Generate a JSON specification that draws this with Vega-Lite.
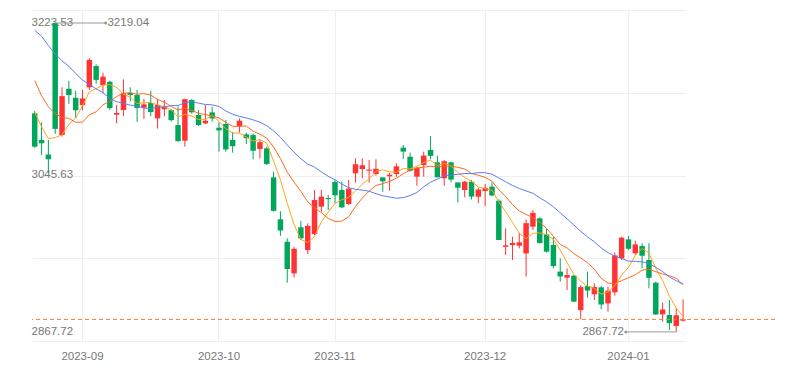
{
  "$schema": "https://vega.github.io/schema/vega-lite/v6.json",
  "width": 743,
  "height": 331,
  "autosize": "none",
  "padding": {"left": 32, "top": 10, "right": 12, "bottom": 29},
  "background": "#ffffff",
  "config": {
    "view": {"stroke": null},
    "axis": {"labelFont": "Liberation Sans", "labelFontSize": 11.5, "labelColor": "#777777"}
  },
  "datasets": {
    "k": [
      {"d":"2023-08-23","o":3116.3,"h":3119,"l":3077,"c":3078.4,"m5":3117.48,"m10":3153.6,"m20":3210.74},
      {"d":"2023-08-24","o":3086,"h":3106,"l":3069,"c":3082.24,"m5":3101.18,"m10":3136.36,"m20":3204.01},
      {"d":"2023-08-25","o":3069.5,"h":3086,"l":3048,"c":3064.07,"m5":3087.6,"m10":3123.85,"m20":3193.42},
      {"d":"2023-08-28","o":3219.04,"h":3219.04,"l":3093,"c":3098.64,"m5":3088.74,"m10":3115.87,"m20":3183.8},
      {"d":"2023-08-29","o":3091.7,"h":3146,"l":3090,"c":3135.89,"m5":3091.85,"m10":3111.84,"m20":3176.05},
      {"d":"2023-08-30","o":3144.3,"h":3153.4,"l":3127,"c":3137.14,"m5":3103.6,"m10":3110.54,"m20":3169.82},
      {"d":"2023-08-31","o":3134,"h":3142,"l":3111,"c":3119.88,"m5":3111.12,"m10":3106.15,"m20":3161.79},
      {"d":"2023-09-01","o":3125.6,"h":3143,"l":3120,"c":3133.25,"m5":3124.96,"m10":3106.28,"m20":3154.05},
      {"d":"2023-09-04","o":3145.9,"h":3179,"l":3143,"c":3177.06,"m5":3140.64,"m10":3114.69,"m20":3149.46},
      {"d":"2023-09-05","o":3170.1,"h":3172,"l":3150,"c":3154.37,"m5":3144.34,"m10":3118.09,"m20":3144.15},
      {"d":"2023-09-06","o":3148.5,"h":3162.5,"l":3139,"c":3158.08,"m5":3148.53,"m10":3126.06,"m20":3139.83},
      {"d":"2023-09-07","o":3152.3,"h":3153.5,"l":3120,"c":3122.35,"m5":3149.02,"m10":3130.07,"m20":3133.22},
      {"d":"2023-09-08","o":3114.8,"h":3125.8,"l":3104.9,"c":3116.72,"m5":3145.72,"m10":3135.34,"m20":3129.59},
      {"d":"2023-09-11","o":3120.1,"h":3155,"l":3113.3,"c":3139,"m5":3138.1,"m10":3139.37,"m20":3127.62},
      {"d":"2023-09-12","o":3139.8,"h":3146,"l":3130,"c":3137.23,"m5":3134.68,"m10":3139.51,"m20":3125.67},
      {"d":"2023-09-13","o":3137.1,"h":3142.8,"l":3106.7,"c":3122.36,"m5":3127.53,"m10":3138.03,"m20":3124.28},
      {"d":"2023-09-14","o":3122.8,"h":3133,"l":3110,"c":3126.55,"m5":3128.37,"m10":3138.7,"m20":3122.42},
      {"d":"2023-09-15","o":3128,"h":3142,"l":3113,"c":3117.74,"m5":3128.58,"m10":3137.15,"m20":3121.71},
      {"d":"2023-09-18","o":3110.6,"h":3133,"l":3099,"c":3125.93,"m5":3125.96,"m10":3132.03,"m20":3123.36},
      {"d":"2023-09-19","o":3121,"h":3131.5,"l":3113,"c":3124.25,"m5":3123.37,"m10":3129.02,"m20":3123.56},
      {"d":"2023-09-20","o":3120,"h":3121,"l":3107,"c":3108.57,"m5":3120.61,"m10":3124.07,"m20":3125.07},
      {"d":"2023-09-21","o":3103,"h":3124,"l":3084,"c":3084.7,"m5":3112.24,"m10":3120.31,"m20":3125.19},
      {"d":"2023-09-22","o":3085.2,"h":3133,"l":3078.5,"c":3132.43,"m5":3115.18,"m10":3121.88,"m20":3128.61},
      {"d":"2023-09-25","o":3131.5,"h":3132.5,"l":3116,"c":3117.5,"m5":3113.49,"m10":3119.73,"m20":3129.55},
      {"d":"2023-09-26","o":3114.4,"h":3120,"l":3102,"c":3103,"m5":3109.24,"m10":3116.3,"m20":3127.91},
      {"d":"2023-09-27","o":3104.9,"h":3125.8,"l":3104,"c":3107.9,"m5":3109.11,"m10":3114.86,"m20":3126.44},
      {"d":"2023-09-28","o":3117.4,"h":3123.9,"l":3106.8,"c":3110.48,"m5":3114.26,"m10":3113.25,"m20":3125.97},
      {"d":"2023-10-09","o":3100,"h":3106,"l":3072.7,"c":3096.92,"m5":3107.16,"m10":3111.17,"m20":3124.16},
      {"d":"2023-10-10","o":3104.2,"h":3108.7,"l":3072.7,"c":3075.24,"m5":3098.71,"m10":3106.1,"m20":3119.07},
      {"d":"2023-10-11","o":3086,"h":3095,"l":3071.6,"c":3078.96,"m5":3093.9,"m10":3101.57,"m20":3115.3},
      {"d":"2023-10-12","o":3102,"h":3110.6,"l":3094.3,"c":3107.9,"m5":3093.9,"m10":3101.5,"m20":3112.79},
      {"d":"2023-10-13","o":3092.4,"h":3094.3,"l":3081.4,"c":3088.1,"m5":3089.42,"m10":3101.84,"m20":3111.07},
      {"d":"2023-10-16","o":3091.6,"h":3093.5,"l":3064,"c":3073.81,"m5":3084.8,"m10":3095.98,"m20":3108.93},
      {"d":"2023-10-17","o":3075.7,"h":3086,"l":3065.1,"c":3083.5,"m5":3086.45,"m10":3092.58,"m20":3106.15},
      {"d":"2023-10-18","o":3076.5,"h":3078.4,"l":3057.5,"c":3058.71,"m5":3082.4,"m10":3088.15,"m20":3102.23},
      {"d":"2023-10-19","o":3043.5,"h":3050,"l":3004.5,"c":3005.39,"m5":3061.9,"m10":3077.9,"m20":3096.38},
      {"d":"2023-10-20","o":2995.8,"h":3005,"l":2977,"c":2983.06,"m5":3040.89,"m10":3065.16,"m20":3089.2},
      {"d":"2023-10-23","o":2970.4,"h":2974.2,"l":2923.7,"c":2939.29,"m5":3013.99,"m10":3049.4,"m20":3080.28},
      {"d":"2023-10-24","o":2934.3,"h":2964.7,"l":2929.4,"c":2962.24,"m5":2989.74,"m10":3038.1,"m20":3072.1},
      {"d":"2023-10-25","o":2986.7,"h":2993.9,"l":2972.3,"c":2974.11,"m5":2972.82,"m10":3027.61,"m20":3064.59},
      {"d":"2023-10-26","o":2960.9,"h":2991.2,"l":2956.3,"c":2988.3,"m5":2969.4,"m10":3015.65,"m20":3058.58},
      {"d":"2023-10-27","o":2979.1,"h":3029.1,"l":2977.9,"c":3017.78,"m5":2976.34,"m10":3008.62,"m20":3055.23},
      {"d":"2023-10-30","o":3010.2,"h":3029.1,"l":3004.5,"c":3021.55,"m5":2992.8,"m10":3003.39,"m20":3049.69},
      {"d":"2023-10-31","o":3020,"h":3023.4,"l":3006.4,"c":3018.77,"m5":3004.1,"m10":2996.92,"m20":3044.75},
      {"d":"2023-11-01","o":3038.2,"h":3040.5,"l":3014,"c":3023.08,"m5":3013.9,"m10":2993.36,"m20":3040.75},
      {"d":"2023-11-02","o":3029.1,"h":3038.6,"l":3008.3,"c":3009.41,"m5":3018.12,"m10":2993.76,"m20":3035.83},
      {"d":"2023-11-03","o":3013.2,"h":3040.5,"l":3012,"c":3030.8,"m5":3020.72,"m10":2998.53,"m20":3031.85},
      {"d":"2023-11-06","o":3048.1,"h":3065.1,"l":3037.5,"c":3058.41,"m5":3028.09,"m10":3010.45,"m20":3029.92},
      {"d":"2023-11-07","o":3053,"h":3065.1,"l":3042.4,"c":3057.27,"m5":3035.79,"m10":3019.95,"m20":3029.02},
      {"d":"2023-11-08","o":3051.1,"h":3063.2,"l":3037.5,"c":3052.37,"m5":3041.65,"m10":3027.77,"m20":3027.69},
      {"d":"2023-11-09","o":3047.3,"h":3064,"l":3045.4,"c":3053.28,"m5":3050.43,"m10":3034.27,"m20":3024.96},
      {"d":"2023-11-10","o":3043.5,"h":3043.5,"l":3027.2,"c":3038.97,"m5":3052.06,"m10":3036.39,"m20":3022.51},
      {"d":"2023-11-13","o":3044.7,"h":3048.8,"l":3028.3,"c":3046.53,"m5":3049.68,"m10":3038.89,"m20":3021.14},
      {"d":"2023-11-14","o":3047.3,"h":3059.4,"l":3044.3,"c":3056.07,"m5":3049.44,"m10":3042.62,"m20":3019.77},
      {"d":"2023-11-15","o":3077.3,"h":3080.3,"l":3064.4,"c":3072.83,"m5":3053.54,"m10":3047.59,"m20":3020.48},
      {"d":"2023-11-16","o":3067,"h":3071.6,"l":3049.9,"c":3050.93,"m5":3053.07,"m10":3051.75,"m20":3022.75},
      {"d":"2023-11-17","o":3044.3,"h":3055.6,"l":3034,"c":3054.37,"m5":3056.15,"m10":3054.1,"m20":3026.32},
      {"d":"2023-11-20","o":3057.5,"h":3072.7,"l":3044.3,"c":3068.32,"m5":3060.5,"m10":3055.09,"m20":3032.77},
      {"d":"2023-11-21","o":3074.6,"h":3090.5,"l":3064,"c":3067.93,"m5":3062.88,"m10":3056.16,"m20":3038.05},
      {"d":"2023-11-22","o":3060.6,"h":3068.2,"l":3043.5,"c":3043.61,"m5":3057.03,"m10":3055.28,"m20":3041.53},
      {"d":"2023-11-23","o":3042.4,"h":3063.2,"l":3034,"c":3061.86,"m5":3059.22,"m10":3056.14,"m20":3045.21},
      {"d":"2023-11-24","o":3060.6,"h":3061.3,"l":3037.8,"c":3040.97,"m5":3056.54,"m10":3056.34,"m20":3046.37},
      {"d":"2023-11-27","o":3037.8,"h":3037.8,"l":3015,"c":3031.7,"m5":3049.21,"m10":3054.86,"m20":3046.87},
      {"d":"2023-11-28","o":3029.1,"h":3039.7,"l":3020.8,"c":3038.55,"m5":3043.34,"m10":3053.11,"m20":3047.86},
      {"d":"2023-11-29","o":3038.6,"h":3040.5,"l":3018.5,"c":3021.69,"m5":3038.95,"m10":3047.99,"m20":3047.79},
      {"d":"2023-11-30","o":3021.5,"h":3031.8,"l":3013.9,"c":3029.67,"m5":3032.52,"m10":3045.87,"m20":3048.81},
      {"d":"2023-12-01","o":3028,"h":3035.9,"l":3010.9,"c":3031.64,"m5":3030.65,"m10":3043.59,"m20":3048.85},
      {"d":"2023-12-04","o":3032.9,"h":3037.8,"l":3022,"c":3022.91,"m5":3028.89,"m10":3039.05,"m20":3047.07},
      {"d":"2023-12-05","o":3017,"h":3018.5,"l":2972,"c":2972.3,"m5":3015.64,"m10":3029.49,"m20":3042.83},
      {"d":"2023-12-06","o":2964.5,"h":2985.5,"l":2955.2,"c":2966.21,"m5":3004.55,"m10":3021.75,"m20":3038.52},
      {"d":"2023-12-07","o":2966.5,"h":2976,"l":2949.5,"c":2968.93,"m5":2992.4,"m10":3012.46,"m20":3034.3},
      {"d":"2023-12-08","o":2965.8,"h":2980.6,"l":2962.8,"c":2969.56,"m5":2979.98,"m10":3005.32,"m20":3030.83},
      {"d":"2023-12-11","o":2957,"h":2995.7,"l":2930.6,"c":2991.44,"m5":2973.69,"m10":3001.29,"m20":3028.07},
      {"d":"2023-12-12","o":2987.4,"h":3006.4,"l":2983.6,"c":3003.14,"m5":2979.86,"m10":2997.75,"m20":3025.43},
      {"d":"2023-12-13","o":2996.9,"h":2998,"l":2968.5,"c":2968.76,"m5":2980.37,"m10":2992.46,"m20":3020.22},
      {"d":"2023-12-14","o":2978.7,"h":2985.5,"l":2958.2,"c":2958.99,"m5":2978.38,"m10":2985.39,"m20":3015.63},
      {"d":"2023-12-15","o":2966.6,"h":2976,"l":2940,"c":2942.56,"m5":2972.98,"m10":2976.48,"m20":3010.04},
      {"d":"2023-12-18","o":2936.3,"h":2951.4,"l":2924.9,"c":2930.8,"m5":2960.85,"m10":2967.27,"m20":3003.16},
      {"d":"2023-12-19","o":2929.4,"h":2940,"l":2915.4,"c":2932.39,"m5":2946.7,"m10":2963.28,"m20":2996.38},
      {"d":"2023-12-20","o":2931.7,"h":2932.5,"l":2902,"c":2902.11,"m5":2933.37,"m10":2956.87,"m20":2989.31},
      {"d":"2023-12-21","o":2892.5,"h":2921,"l":2882,"c":2918.72,"m5":2925.32,"m10":2951.85,"m20":2982.15},
      {"d":"2023-12-22","o":2919.9,"h":2936.2,"l":2906.7,"c":2914.78,"m5":2919.76,"m10":2946.37,"m20":2975.84},
      {"d":"2023-12-25","o":2910.5,"h":2923,"l":2904,"c":2918.81,"m5":2917.36,"m10":2939.11,"m20":2970.2},
      {"d":"2023-12-26","o":2918.4,"h":2920,"l":2893.4,"c":2898.85,"m5":2910.65,"m10":2928.68,"m20":2963.21},
      {"d":"2023-12-27","o":2900.2,"h":2919.2,"l":2890.8,"c":2914.61,"m5":2913.15,"m10":2923.26,"m20":2957.86},
      {"d":"2023-12-28","o":2912.8,"h":2958.2,"l":2909,"c":2954.7,"m5":2920.35,"m10":2922.83,"m20":2954.11},
      {"d":"2023-12-29","o":2951.4,"h":2976,"l":2949.5,"c":2974.93,"m5":2932.38,"m10":2926.07,"m20":2951.28},
      {"d":"2024-01-02","o":2973,"h":2976.8,"l":2960.9,"c":2962.28,"m5":2941.07,"m10":2929.22,"m20":2948.24},
      {"d":"2024-01-03","o":2957.1,"h":2971.5,"l":2955.2,"c":2967.25,"m5":2954.75,"m10":2932.7,"m20":2947.99},
      {"d":"2024-01-04","o":2965.4,"h":2968.5,"l":2940,"c":2954.35,"m5":2962.7,"m10":2937.93,"m20":2947.4},
      {"d":"2024-01-05","o":2949.5,"h":2968.5,"l":2917.3,"c":2929.18,"m5":2957.6,"m10":2938.97,"m20":2945.41},
      {"d":"2024-01-08","o":2923.7,"h":2924.9,"l":2887,"c":2887.54,"m5":2940.12,"m10":2936.25,"m20":2941.31},
      {"d":"2024-01-09","o":2887.7,"h":2901,"l":2879.4,"c":2893.25,"m5":2926.31,"m10":2933.69,"m20":2936.4},
      {"d":"2024-01-10","o":2887,"h":2904,"l":2869.9,"c":2877.7,"m5":2908.4,"m10":2931.58,"m20":2930.13},
      {"d":"2024-01-11","o":2874.5,"h":2894.5,"l":2867.72,"c":2886.65,"m5":2894.86,"m10":2928.78,"m20":2926.02},
      {"d":"2024-01-12","o":2880.5,"h":2904.8,"l":2879.4,"c":2881.98,"m5":2885.42,"m10":2921.51,"m20":2922.17}
    ],
    "ann": [
      {"d":"2023-08-28","d2":"2023-09-06","v":3219.04,"t":"3219.04","side":"top"},
      {"d":"2024-01-11","d2":"2024-01-02","v":2867.72,"t":"2867.72","side":"bottom"}
    ]
  },
  "layer": [
    {
      "data": {"name": "k"},
      "mark": {"type": "rule", "strokeWidth": 1},
      "encoding": {
        "x": {
          "field": "d", "type": "ordinal",
          "scale": {"type": "band", "range": [0, 653.8], "paddingInner": 0.2, "paddingOuter": 0},
          "axis": {
            "values": ["2023-09-01","2023-10-09","2023-11-01","2023-12-01","2024-01-02"],
            "labelExpr": "substring(datum.value, 0, 7)",
            "title": null, "domain": false, "ticks": false, "grid": true,
            "gridColor": "#efefef", "labelPadding": 9, "labelAngle": 0, "bandPosition": 0.5
          }
        },
        "y": {
          "field": "l", "type": "quantitative",
          "scale": {"domain": [2857.4, 3233.85], "zero": false, "nice": false},
          "axis": {
            "values": [2857.4, 2951.51, 3045.625, 3139.74, 3233.85],
            "grid": true, "gridColor": "#efefef", "labels": false, "ticks": false,
            "domain": false, "title": null, "orient": "left"
          }
        },
        "y2": {"field": "h"},
        "color": {"condition": {"test": "datum.c >= datum.o", "value": "#ff3333"}, "value": "#00a65a"}
      }
    },
    {
      "data": {"name": "k"},
      "mark": {"type": "bar"},
      "encoding": {
        "x": {"field": "d", "type": "ordinal"},
        "y": {
          "field": "o", "type": "quantitative",
          "axis": {
            "values": [2867.72, 3045.63, 3223.53], "format": ".2f",
            "grid": false, "ticks": false, "tickSize": 0, "domain": false, "title": null,
            "orient": "left", "labelAlign": "left", "labelBaseline": "middle", "labelPadding": 1,
            "labelOffset": {"condition": {"test": "datum.value > 3200", "value": 3.4}, "value": -0.7},
            "labelFlush": false, "labelOverlap": false, "labelBound": false
          }
        },
        "y2": {"field": "c"},
        "color": {"condition": {"test": "datum.c >= datum.o", "value": "#ff3333"}, "value": "#00a65a"}
      }
    },
    {
      "data": {"name": "k"},
      "mark": {"type": "line", "strokeWidth": 1, "color": "#ffa41c"},
      "encoding": {"x": {"field": "d", "type": "ordinal"}, "y": {"field": "m5", "type": "quantitative", "axis": null}}
    },
    {
      "data": {"name": "k"},
      "mark": {"type": "line", "strokeWidth": 1, "color": "#ff6a1c"},
      "encoding": {"x": {"field": "d", "type": "ordinal"}, "y": {"field": "m10", "type": "quantitative", "axis": null}}
    },
    {
      "data": {"name": "k"},
      "mark": {"type": "line", "strokeWidth": 1, "color": "#5a7df5"},
      "encoding": {"x": {"field": "d", "type": "ordinal"}, "y": {"field": "m20", "type": "quantitative", "axis": null}}
    },
    {
      "data": {"name": "k"},
      "transform": [{"filter": "datum.d == '2024-01-12'"}],
      "mark": {"type": "rule", "strokeWidth": 1, "strokeDash": [4, 3], "color": "#f5793b"},
      "encoding": {"y": {"field": "c", "type": "quantitative", "axis": null}}
    },
    {
      "data": {"name": "ann"},
      "transform": [{"filter": "datum.side == 'top'"}],
      "mark": {"type": "rule", "strokeWidth": 1, "color": "#999999", "x2Offset": 2.7},
      "encoding": {"x": {"field": "d", "type": "ordinal"}, "x2": {"field": "d2"}, "y": {"field": "v", "type": "quantitative", "axis": null}}
    },
    {
      "data": {"name": "ann"},
      "transform": [{"filter": "datum.side == 'bottom'"}],
      "mark": {"type": "rule", "strokeWidth": 1, "color": "#999999", "x2Offset": -2.7},
      "encoding": {"x": {"field": "d", "type": "ordinal"}, "x2": {"field": "d2"}, "y": {"field": "v", "type": "quantitative", "axis": null}}
    },
    {
      "data": {"name": "ann"},
      "transform": [{"filter": "datum.side == 'top'"}],
      "mark": {"type": "point", "filled": true, "size": 9, "opacity": 1, "color": "#999999", "xOffset": 2.7},
      "encoding": {"x": {"field": "d2", "type": "ordinal"}, "y": {"field": "v", "type": "quantitative", "axis": null}}
    },
    {
      "data": {"name": "ann"},
      "transform": [{"filter": "datum.side == 'bottom'"}],
      "mark": {"type": "point", "filled": true, "size": 9, "opacity": 1, "color": "#999999", "xOffset": -2.7},
      "encoding": {"x": {"field": "d2", "type": "ordinal"}, "y": {"field": "v", "type": "quantitative", "axis": null}}
    },
    {
      "data": {"name": "ann"},
      "transform": [{"filter": "datum.side == 'top'"}],
      "mark": {"type": "text", "align": "left", "baseline": "middle", "dx": 4.5, "font": "Liberation Sans", "fontSize": 11.5, "color": "#777777"},
      "encoding": {"x": {"field": "d2", "type": "ordinal"}, "y": {"field": "v", "type": "quantitative", "axis": null}, "text": {"field": "t"}}
    },
    {
      "data": {"name": "ann"},
      "transform": [{"filter": "datum.side == 'bottom'"}],
      "mark": {"type": "text", "align": "right", "baseline": "middle", "dx": -4.5, "font": "Liberation Sans", "fontSize": 11.5, "color": "#777777"},
      "encoding": {"x": {"field": "d2", "type": "ordinal"}, "y": {"field": "v", "type": "quantitative", "axis": null}, "text": {"field": "t"}}
    }
  ],
  "resolve": {"axis": {"y": "independent"}}
}
